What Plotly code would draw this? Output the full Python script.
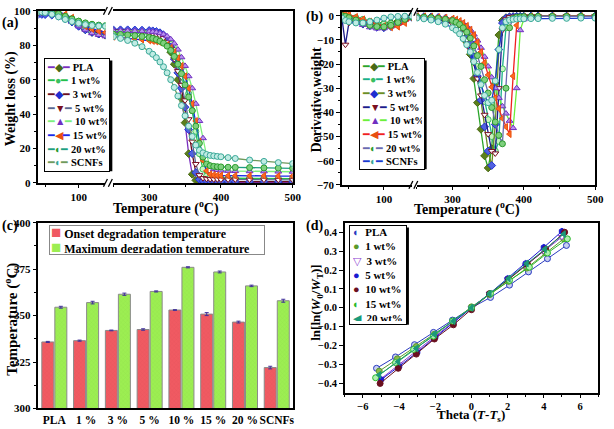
import plotly.graph_objects as go

FONT = "Liberation Serif"
W, H = 614, 429


def px(x):
    return x / W


def py(y):
    return 1 - y / H


# ---------------- data ----------------
NAMES = ["PLA", "1 wt%", "3 wt%", "5 wt%", "10 wt%", "15 wt%", "20 wt%", "SCNFs"]

T_LOW = [40, 45, 50, 60, 70, 80, 90, 100, 110, 120, 130, 140]
T_HIGH = [250, 260, 270, 280, 290, 300, 305, 310, 315, 320, 325, 330, 335, 340, 345, 350,
          355, 360, 365, 370, 375, 380, 385, 390, 395, 400, 410, 420, 440, 460, 480, 500]

# (a) weight loss (%)
wl_pla_low = [99, 99, 99, 98.8, 98, 96.5, 94, 91.5, 89, 87.5, 86.5, 85.8]
wl_1_low = [100, 100, 100, 99.5, 98.5, 97, 95.5, 94, 92.8, 92, 91.5, 91.2]
wl_3_low = [98, 97.9, 97.8, 97.5, 97, 95.5, 93.5, 91, 89, 87.5, 86.5, 86]
wl_5_low = [99, 99, 99, 98.5, 97.5, 96, 94, 92, 90, 88.5, 87.5, 87]
wl_10_low = [99.5, 99.5, 99.5, 99, 98, 96, 93.5, 91, 89, 87, 86, 85.2]
wl_15_low = [100, 100, 100, 100, 99.5, 98, 96, 93.5, 91, 89.5, 88.3, 87.5]
wl_20_low = [100, 100, 99.8, 99.3, 98.3, 96.8, 95.3, 94, 93, 92.2, 91.7, 91.4]
wl_scnf_low = [99.5, 99.3, 99, 98, 96.5, 95, 93.8, 92.8, 92, 91.5, 91.2, 91]

wl_pla_high = [88.5, 88.4, 88.3, 88.1, 87.8, 87.3, 86.8, 86.0, 84.8, 83.0, 81.0, 76.0, 69.0, 60.0, 49.0, 35.0,
               17.0, 5.0, 1.5, 0.6, 0.4, 0.3, 0.3, 0.2, 0.2, 0.2, 0.2, 0.1, 0.1, 0.1, 0.1, 0.1]
wl_1_high = [87.5, 87.4, 87.3, 87.2, 87.0, 86.7, 86.4, 86.0, 85.4, 84.5, 83.0, 80.5, 77.0, 72.5, 67.0, 60.0,
             52.0, 42.0, 30.0, 17.0, 8.0, 4.0, 3.2, 3.0, 2.9, 2.8, 2.7, 2.7, 2.6, 2.6, 2.5, 2.5]
wl_3_high = [89.0, 89.0, 89.0, 88.9, 88.8, 88.6, 88.4, 88.0, 87.3, 86.0, 83.5, 79.0, 72.0, 64.0, 55.0, 44.0,
             31.0, 17.0, 6.0, 2.0, 1.2, 1.0, 0.9, 0.9, 0.8, 0.8, 0.8, 0.8, 0.7, 0.7, 0.7, 0.7]
wl_5_high = [88.0, 88.0, 87.9, 87.8, 87.5, 87.1, 86.8, 86.3, 85.5, 84.2, 82.0, 78.0, 72.0, 65.0, 57.0, 48.0,
             37.0, 24.0, 11.0, 4.5, 2.8, 2.4, 2.2, 2.1, 2.1, 2.0, 2.0, 2.0, 1.9, 1.9, 1.8, 1.8]
wl_10_high = [88.5, 88.5, 88.4, 88.3, 88.2, 88.0, 87.8, 87.5, 87.0, 86.3, 85.2, 83.5, 81.0, 77.5, 73.0, 68.0,
              62.0, 55.0, 46.0, 36.0, 26.0, 16.0, 10.0, 8.0, 7.5, 7.2, 7.0, 6.9, 6.8, 6.7, 6.6, 6.5]
wl_15_high = [85.0, 84.6, 84.2, 83.8, 83.3, 82.8, 82.5, 82.2, 81.8, 81.2, 80.2, 78.5, 76.0, 72.5, 68.0, 62.0,
              55.0, 46.0, 36.0, 24.0, 13.0, 7.0, 5.0, 4.6, 4.4, 4.3, 4.2, 4.2, 4.1, 4.1, 4.0, 4.0]
wl_20_high = [86.5, 86.3, 86.0, 85.6, 85.1, 84.5, 84.0, 83.3, 82.4, 81.2, 79.5, 77.0, 73.5, 69.0, 63.5, 57.0,
              50.0, 42.0, 33.0, 23.0, 15.0, 11.0, 10.0, 9.6, 9.4, 9.3, 9.1, 9.0, 8.9, 8.7, 8.6, 8.5]
wl_scnf_high = [85.0, 84.0, 82.8, 81.2, 79.2, 76.5, 74.8, 72.8, 70.3, 67.5, 64.0, 60.0, 55.5, 50.5, 45.0, 39.0,
                33.0, 27.0, 22.0, 19.0, 17.5, 16.5, 16.0, 15.7, 15.4, 15.2, 14.7, 14.2, 13.3, 12.5, 11.8, 11.2]

# (b) derivative weight
dtg_pla_low = [0.5, 0, -0.5, -1.2, -2, -2.6, -3, -3.2, -2.9, -2.2, -1.2, -0.5]
dtg_1_low = [0, -0.2, -0.4, -0.8, -1.5, -2.3, -3, -3.5, -3.3, -2.5, -1.5, -0.6]
dtg_3_low = [0, -0.8, -1.5, -2.5, -3.5, -4.2, -4.8, -5, -4.5, -3.2, -1.8, -0.7]
dtg_5_low = [-1, -12, -3, -2.8, -3.5, -4, -4.5, -4.8, -4.2, -3, -1.7, -0.6]
dtg_10_low = [0.5, 0, -1, -2.5, -3.8, -4.8, -5.3, -5.2, -4.5, -3.2, -1.8, -0.6]
dtg_15_low = [1, 1, 0.5, -0.5, -1.5, -2.5, -3.5, -4.3, -4.8, -4.5, -3, -1]
dtg_20_low = [0, -0.3, -0.8, -1.8, -3, -4, -4.5, -4.6, -4, -2.8, -1.5, -0.5]
dtg_scnf_low = [-1, -2, -2.5, -3, -3, -2.5, -1.8, -1, -0.5, -0.3, -0.2, -0.1]

dtg_pla_high = [-0.5, -0.6, -0.8, -1.1, -1.6, -2.5, -3.5, -5.0, -7.5, -11, -16, -26, -36, -47, -58, -63,
                -55, -28, -8, -2, -0.8, -0.5, -0.4, -0.3, -0.3, -0.3, -0.2, -0.2, -0.2, -0.2, -0.1, -0.1]
dtg_1_high = [-0.5, -0.7, -0.9, -1.2, -1.7, -2.5, -3.3, -4.3, -5.8, -8, -11, -15.5, -21, -28, -35.5, -43,
              -50, -56, -52, -22, -5, -1.2, -0.6, -0.4, -0.4, -0.3, -0.3, -0.3, -0.2, -0.2, -0.2, -0.2]
dtg_3_high = [-0.3, -0.4, -0.5, -0.7, -1.1, -1.8, -2.5, -3.5, -5, -7.5, -11, -17, -25, -35, -46, -56,
              -62, -45, -14, -3, -1, -0.5, -0.4, -0.3, -0.3, -0.3, -0.2, -0.2, -0.2, -0.2, -0.2, -0.2]
dtg_5_high = [-0.6, -0.8, -1.1, -1.6, -2.3, -3.3, -4.2, -5.5, -7.3, -10, -14, -19.5, -26, -33, -41, -49,
              -56, -57, -30, -6, -1.5, -0.6, -0.4, -0.3, -0.3, -0.3, -0.2, -0.2, -0.2, -0.2, -0.2, -0.2]
dtg_10_high = [-0.2, -0.3, -0.4, -0.6, -0.9, -1.4, -1.8, -2.4, -3.2, -4.3, -5.8, -7.8, -10.3, -13.3, -17, -21,
               -25.5, -30, -34, -37.5, -40.5, -43.5, -46.5, -30, -6, -1.5, -0.5, -0.3, -0.2, -0.2, -0.2, -0.2]
dtg_15_high = [-0.2, -0.3, -0.4, -0.6, -0.8, -1.2, -1.6, -2.2, -3, -4.2, -5.8, -8, -11, -15, -19.5, -24.5,
               -29.5, -34, -38.5, -42.5, -46, -49, -25, -4, -1, -0.5, -0.3, -0.3, -0.2, -0.2, -0.2, -0.2]
dtg_20_high = [-0.4, -0.6, -0.8, -1.1, -1.5, -2, -2.7, -3.6, -5, -6.8, -9.3, -12.5, -16.5, -21, -26.5, -32,
               -38, -44, -49.5, -53, -30, -5, -1.2, -0.6, -0.5, -0.4, -0.4, -0.3, -0.3, -0.3, -0.3, -0.3]
dtg_scnf_high = [-1, -1.3, -1.8, -2.5, -3.5, -5, -6, -7.5, -9.5, -12, -15, -19, -23.5, -28.5, -33, -36,
                 -35, -27, -14, -5, -2.5, -1.8, -1.5, -1.4, -1.3, -1.3, -1.2, -1.2, -1.1, -1.1, -1, -1]

# (c) degradation temperatures
CATS = ["PLA", "1 %", "3 %", "5 %", "10 %", "15 %", "20 %", "SCNFs"]
onset_t = [335.8, 336.5, 342.0, 342.5, 353.0, 350.8, 346.5, 322.0]
onset_err = [0.3, 0.3, 0.2, 0.4, 0.2, 0.8, 0.5, 0.7]
max_t = [354.5, 357.0, 361.5, 363.0, 376.0, 373.5, 366.0, 358.0]
max_err = [0.5, 0.7, 0.6, 0.3, 0.3, 0.5, 0.4, 0.8]

# (d) Broido plot
D_NAMES = ["PLA", "1 wt%", "3 wt%", "5 wt%", "10 wt%", "15 wt%", "20 wt%"]
th_pla = [-5.25, -4.2, -3.15, -2.1, -1.05, 0, 1.05, 2.1, 3.15, 4.2, 5.25]
ln_pla = [-0.32, -0.26, -0.195, -0.13, -0.065, 0, 0.055, 0.12, 0.19, 0.26, 0.33]
th_1 = [-5.1, -4.1, -3.05, -2.05, -1.0, 0, 1.0, 2.05, 3.05, 4.1, 5.1]
ln_1 = [-0.335, -0.27, -0.205, -0.14, -0.07, 0.005, 0.07, 0.14, 0.21, 0.29, 0.365]
th_3 = [-5, -4, -3, -2, -1, 0, 1, 2, 3, 4, 5]
ln_3 = [-0.375, -0.3, -0.225, -0.15, -0.075, 0, 0.075, 0.15, 0.225, 0.3, 0.375]
th_5 = [-5, -4, -3, -2, -1, 0, 1, 2, 3, 4, 5]
ln_5 = [-0.38, -0.31, -0.235, -0.155, -0.08, 0, 0.075, 0.155, 0.235, 0.32, 0.405]
th_10 = [-5.05, -4.05, -3.05, -2.05, -1.0, 0, 1.0, 2.05, 3.1, 4.1, 5.15]
ln_10 = [-0.4, -0.32, -0.245, -0.165, -0.09, -0.01, 0.075, 0.15, 0.23, 0.31, 0.4]
th_15 = [-5.3, -4.2, -3.2, -2.1, -1.05, 0, 1.05, 2.1, 3.2, 4.2, 5.3]
ln_15 = [-0.37, -0.29, -0.22, -0.15, -0.07, 0, 0.075, 0.145, 0.215, 0.29, 0.365]
th_20 = [-5.1, -4.05, -3.05, -2.05, -1.0, 0, 1.0, 2.05, 3.05, 4.05, 5.1]
ln_20 = [-0.355, -0.285, -0.215, -0.14, -0.07, 0, 0.075, 0.155, 0.235, 0.31, 0.39]

# ---------------- styles ----------------
A_LINE = ["#7b2fbe", "#22c04a", "#6b0f1f", "#5a6890", "#7cf07c", "#1a2ae8", "#1f9f82", "#6f9a5c"]
B_LINE = ["#2aa52a", "#19b08a", "#6b8e23", "#1c1c8c", "#6cf03a", "#f02020", "#6a6ab0", "#1a3ad0"]
MK_FILL = ["#5b7f1c", "#c8f5c0", "#5060e0", "#ffffff", "#b890f0", "#ff6a20", "#7fd07f", "#c0ece4"]
MK_EDGE = ["#4a6a14", "#3ac060", "#1f2fd0", "#7a1020", "#7030c0", "#e85010", "#2a9a2a", "#3aa898"]
MK_SYM = ["diamond", "circle", "diamond", "triangle-down", "triangle-up", "triangle-left", "circle", "circle"]
GLYPH = ["◆", "●", "◆", "▼", "▲", "◀", "◐", "◐"]

D_COLOR = ["#2a3ac0", "#5a9a2a", "#8a3ad0", "#1a1ad0", "#6a0f1f", "#2ab82a", "#1a9a7a"]
D_FILL = ["#c8d0f0", "#8ab84a", "#ffffff", "#1a1ad0", "#6a0f1f", "#b0f0b0", "#1a9a7a"]
D_SYM = ["circle", "circle", "triangle-down", "hexagon", "circle", "circle", "triangle-left"]
D_GLYPH = ["◐", "●", "▽", "●", "●", "◐", "◀"]

fig = go.Figure()

a_low = [wl_pla_low, wl_1_low, wl_3_low, wl_5_low, wl_10_low, wl_15_low, wl_20_low, wl_scnf_low]
a_high = [wl_pla_high, wl_1_high, wl_3_high, wl_5_high, wl_10_high, wl_15_high, wl_20_high, wl_scnf_high]
b_low = [dtg_pla_low, dtg_1_low, dtg_3_low, dtg_5_low, dtg_10_low, dtg_15_low, dtg_20_low, dtg_scnf_low]
b_high = [dtg_pla_high, dtg_1_high, dtg_3_high, dtg_5_high, dtg_10_high, dtg_15_high, dtg_20_high,
          dtg_scnf_high]


def curve(x, y, xa, ya, line_c, i):
    fig.add_trace(go.Scatter(
        x=x, y=y, xaxis=xa, yaxis=ya, mode="lines+markers", showlegend=False, hoverinfo="skip",
        line=dict(color=line_c, width=1.3),
        marker=dict(symbol=MK_SYM[i], size=6, color=MK_FILL[i], line=dict(color=MK_EDGE[i], width=1))))


for i in range(len(NAMES)):
    curve(T_LOW, a_low[i], "x", "y", A_LINE[i], i)
    curve(T_HIGH, a_high[i], "x2", "y2", A_LINE[i], i)
    curve(T_LOW, b_low[i], "x3", "y3", B_LINE[i], i)
    curve(T_HIGH, b_high[i], "x4", "y4", B_LINE[i], i)

# (c) bars
fig.add_trace(go.Bar(
    x=CATS, y=onset_t, xaxis="x5", yaxis="y5", name="Onset degradation temperature", showlegend=False,
    marker=dict(color="#f05a62", line=dict(color="#8a8a8a", width=1),
                pattern=dict(shape="x", size=3, solidity=0.15, fgcolor="#d84850")),
    error_y=dict(type="data", array=onset_err, color="#40309a", thickness=1, width=2)))
fig.add_trace(go.Bar(
    x=CATS, y=max_t, xaxis="x5", yaxis="y5", name="Maximum degradation temperature", showlegend=False,
    marker=dict(color="#9cee52", line=dict(color="#8a8a8a", width=1),
                pattern=dict(shape="x", size=3, solidity=0.15, fgcolor="#80d040")),
    error_y=dict(type="data", array=max_err, color="#40309a", thickness=1, width=2)))

# (d) scatter + lines
d_x = [th_pla, th_1, th_3, th_5, th_10, th_15, th_20]
d_y = [ln_pla, ln_1, ln_3, ln_5, ln_10, ln_15, ln_20]
for i in range(len(D_NAMES)):
    fig.add_trace(go.Scatter(
        x=d_x[i], y=d_y[i], xaxis="x6", yaxis="y6", mode="lines+markers", showlegend=False,
        hoverinfo="skip", line=dict(color=D_COLOR[i], width=1),
        marker=dict(symbol=D_SYM[i], size=6, color=D_FILL[i], line=dict(color=D_COLOR[i], width=1))))

# ---------------- axes ----------------
tickfont = dict(family=FONT, size=11, color="black", weight="bold")
base = dict(showline=True, linecolor="black", linewidth=1.5, ticks="outside", ticklen=4, tickwidth=1.2,
            tickcolor="black", showgrid=False, zeroline=False, tickfont=tickfont)


def minor(d):
    return dict(ticks="outside", ticklen=2.5, dtick=d, tickcolor="black", showgrid=False)


fig.update_layout(
    xaxis=dict(base, domain=[px(39), px(107)], anchor="y", range=[40, 140], tick0=0, dtick=100,
               minor=minor(50), mirror=True, ticklen=3),
    yaxis=dict(base, domain=[py(182), py(5)], anchor="x", range=[0, 100], dtick=20, minor=minor(10)),
    xaxis2=dict(base, domain=[px(115), px(297)], anchor="y2", range=[250, 500], tick0=0, dtick=100,
                minor=minor(50), mirror=True, ticklen=3),
    yaxis2=dict(base, domain=[py(182), py(5)], anchor="x2", side="right", matches="y", ticks="",
                showticklabels=False),
    xaxis3=dict(base, domain=[px(347), px(418)], anchor="y3", range=[40, 140], tick0=0, dtick=100,
                minor=minor(50), mirror=True, ticklen=3),
    yaxis3=dict(base, domain=[py(184), py(6)], anchor="x3", range=[-70, 1.6], dtick=10, minor=minor(5)),
    xaxis4=dict(base, domain=[px(423), px(604)], anchor="y4", range=[250, 500], tick0=0, dtick=100,
                minor=minor(50), mirror=True, ticklen=3),
    yaxis4=dict(base, domain=[py(184), py(6)], anchor="x4", side="right", matches="y3", ticks="",
                showticklabels=False),
    xaxis5=dict(base, domain=[px(39), px(297)], anchor="y5", ticks="", mirror=True, tickangle=0,
                tickfont=dict(tickfont, size=11.5)),
    yaxis5=dict(base, domain=[py(414), py(223)], anchor="x5", range=[300, 400], dtick=25,
                minor=minor(12.5), mirror=True),
    xaxis6=dict(base, domain=[px(350), px(607)], anchor="y6", range=[-7, 7], dtick=2, minor=minor(1),
                ticklen=3, mirror=True, tickfont=dict(tickfont, size=10.5)),
    yaxis6=dict(base, domain=[py(398), py(223)], anchor="x6", range=[-0.45, 0.45], tick0=0, dtick=0.1,
                tickformat=".1f", mirror=True, tickfont=dict(tickfont, size=10.5)),
    barmode="group", bargap=0.18, bargroupgap=0.08,
    # natural size leaves room for the default 8px body margin; the page script below
    # removes that margin and sets the figure to the full 614x429
    width=W - 16, height=H - 16, autosize=False,
    margin=dict(l=0, r=0, t=0, b=0),
    paper_bgcolor="white", plot_bgcolor="white",
    font=dict(family=FONT, color="black"),
)

# ---------------- texts, legends, decorations ----------------
ann = []
shapes = []


def text(x, y, s, size, angle=0, xanchor="center"):
    ann.append(dict(x=px(x), y=py(y), xref="paper", yref="paper", text=s, showarrow=False,
                    textangle=angle, xanchor=xanchor, yanchor="middle",
                    font=dict(family=FONT, size=size, color="black")))


text(0, 17, "<b>(a)</b>", 14, xanchor="left")
text(309, 11, "<b>(b)</b>", 14, xanchor="left")
text(0, 226, "<b>(c)</b>", 14, xanchor="left")
text(309, 226, "<b>(d)</b>", 14, xanchor="left")

text(12, 95, "<b>Weight loss (%)</b>", 14, angle=-90)
text(168, 207, "<b>Temperature (<sup>o</sup>C)</b>", 14)
text(321, 96, "<b>Derivative weight</b>", 14, angle=-90)
text(474, 208, "<b>Temperature (<sup>o</sup>C)</b>", 14)
text(12, 322, "<b>Temperature (<sup>o</sup>C)</b>", 15, angle=-90)
text(321, 305, "<b>ln[ln(<i>W</i><sub>0</sub>/<i>W</i><sub>T</sub>)]</b>", 13, angle=-90)
text(478, 421, "<b>Theta (<i>T</i>-<i>T</i><sub>s</sub>)</b>", 13)


def legend_box(x, y, lines, w, h, pad, size, shadow=True, border="black"):
    ann.append(dict(x=px(x), y=py(y), xref="paper", yref="paper", text="<br>".join(lines),
                    showarrow=False, xanchor="left", yanchor="top", align="left", width=w, height=h,
                    borderpad=pad, borderwidth=1, bordercolor=border, bgcolor="white",
                    font=dict(family=FONT, size=size, color="black")))
    if shadow:
        ow, oh = w + 2 * (pad + 1), h + 2 * (pad + 1)
        shapes.append(dict(type="rect", xref="paper", yref="paper", layer="above",
                           x0=px(x + 3), x1=px(x + ow + 3), y0=py(y + oh + 3), y1=py(y + 3),
                           fillcolor="black", line=dict(width=0)))


def key(line_c, mark_c, glyph):
    return (f'<span style="color:{line_c}">━</span><span style="color:{mark_c}">{glyph}</span>'
            f'<span style="color:{line_c}">━</span>')


leg_a = [key(A_LINE[i], MK_EDGE[i], GLYPH[i]) + f" <b>{NAMES[i]}</b>" for i in range(len(NAMES))]
leg_b = [key(B_LINE[i], MK_EDGE[i], GLYPH[i]) + f" <b>{NAMES[i]}</b>" for i in range(len(NAMES))]
leg_d = [f'<span style="color:{D_COLOR[i]}">{D_GLYPH[i]}</span>  <b>{D_NAMES[i]}</b>'
         for i in range(len(D_NAMES))]
leg_c = ['<span style="color:#f05a62;font-size:17px">■</span> <b>Onset degradation temperature</b>',
         '<span style="color:#9cee52;font-size:17px">■</span> <b>Maximum degradation temperature</b>']

legend_box(45, 53, leg_a, 60, 108, 2, 10.5)
legend_box(364, 53, leg_b, 60, 106, 2, 10.5)
legend_box(50, 225, leg_c, 212, 26, 1, 12, shadow=False, border="#888888")
legend_box(354, 225, leg_d, 50, 92, 3, 11)


def brk(x, y):
    for dx in (-5, 0):
        shapes.append(dict(type="line", xref="paper", yref="paper", layer="above",
                           x0=px(x + dx), y0=py(y + 4), x1=px(x + dx + 4), y1=py(y - 4),
                           line=dict(color="black", width=1.3)))


brk(110, 182)
brk(110, 5)
brk(420, 184)
brk(420, 6)

fig.update_layout(annotations=ann, shapes=shapes)

fit = ("document.documentElement.style.overflow='hidden';"
       "document.body.style.margin='0';document.body.style.overflow='hidden';"
       "var gd=document.getElementById('{plot_id}');"
       "Plotly.relayout(gd,{width:%d,height:%d});" % (W, H))
fig.write_html("out.html", config={"displayModeBar": False}, post_script=fit)
